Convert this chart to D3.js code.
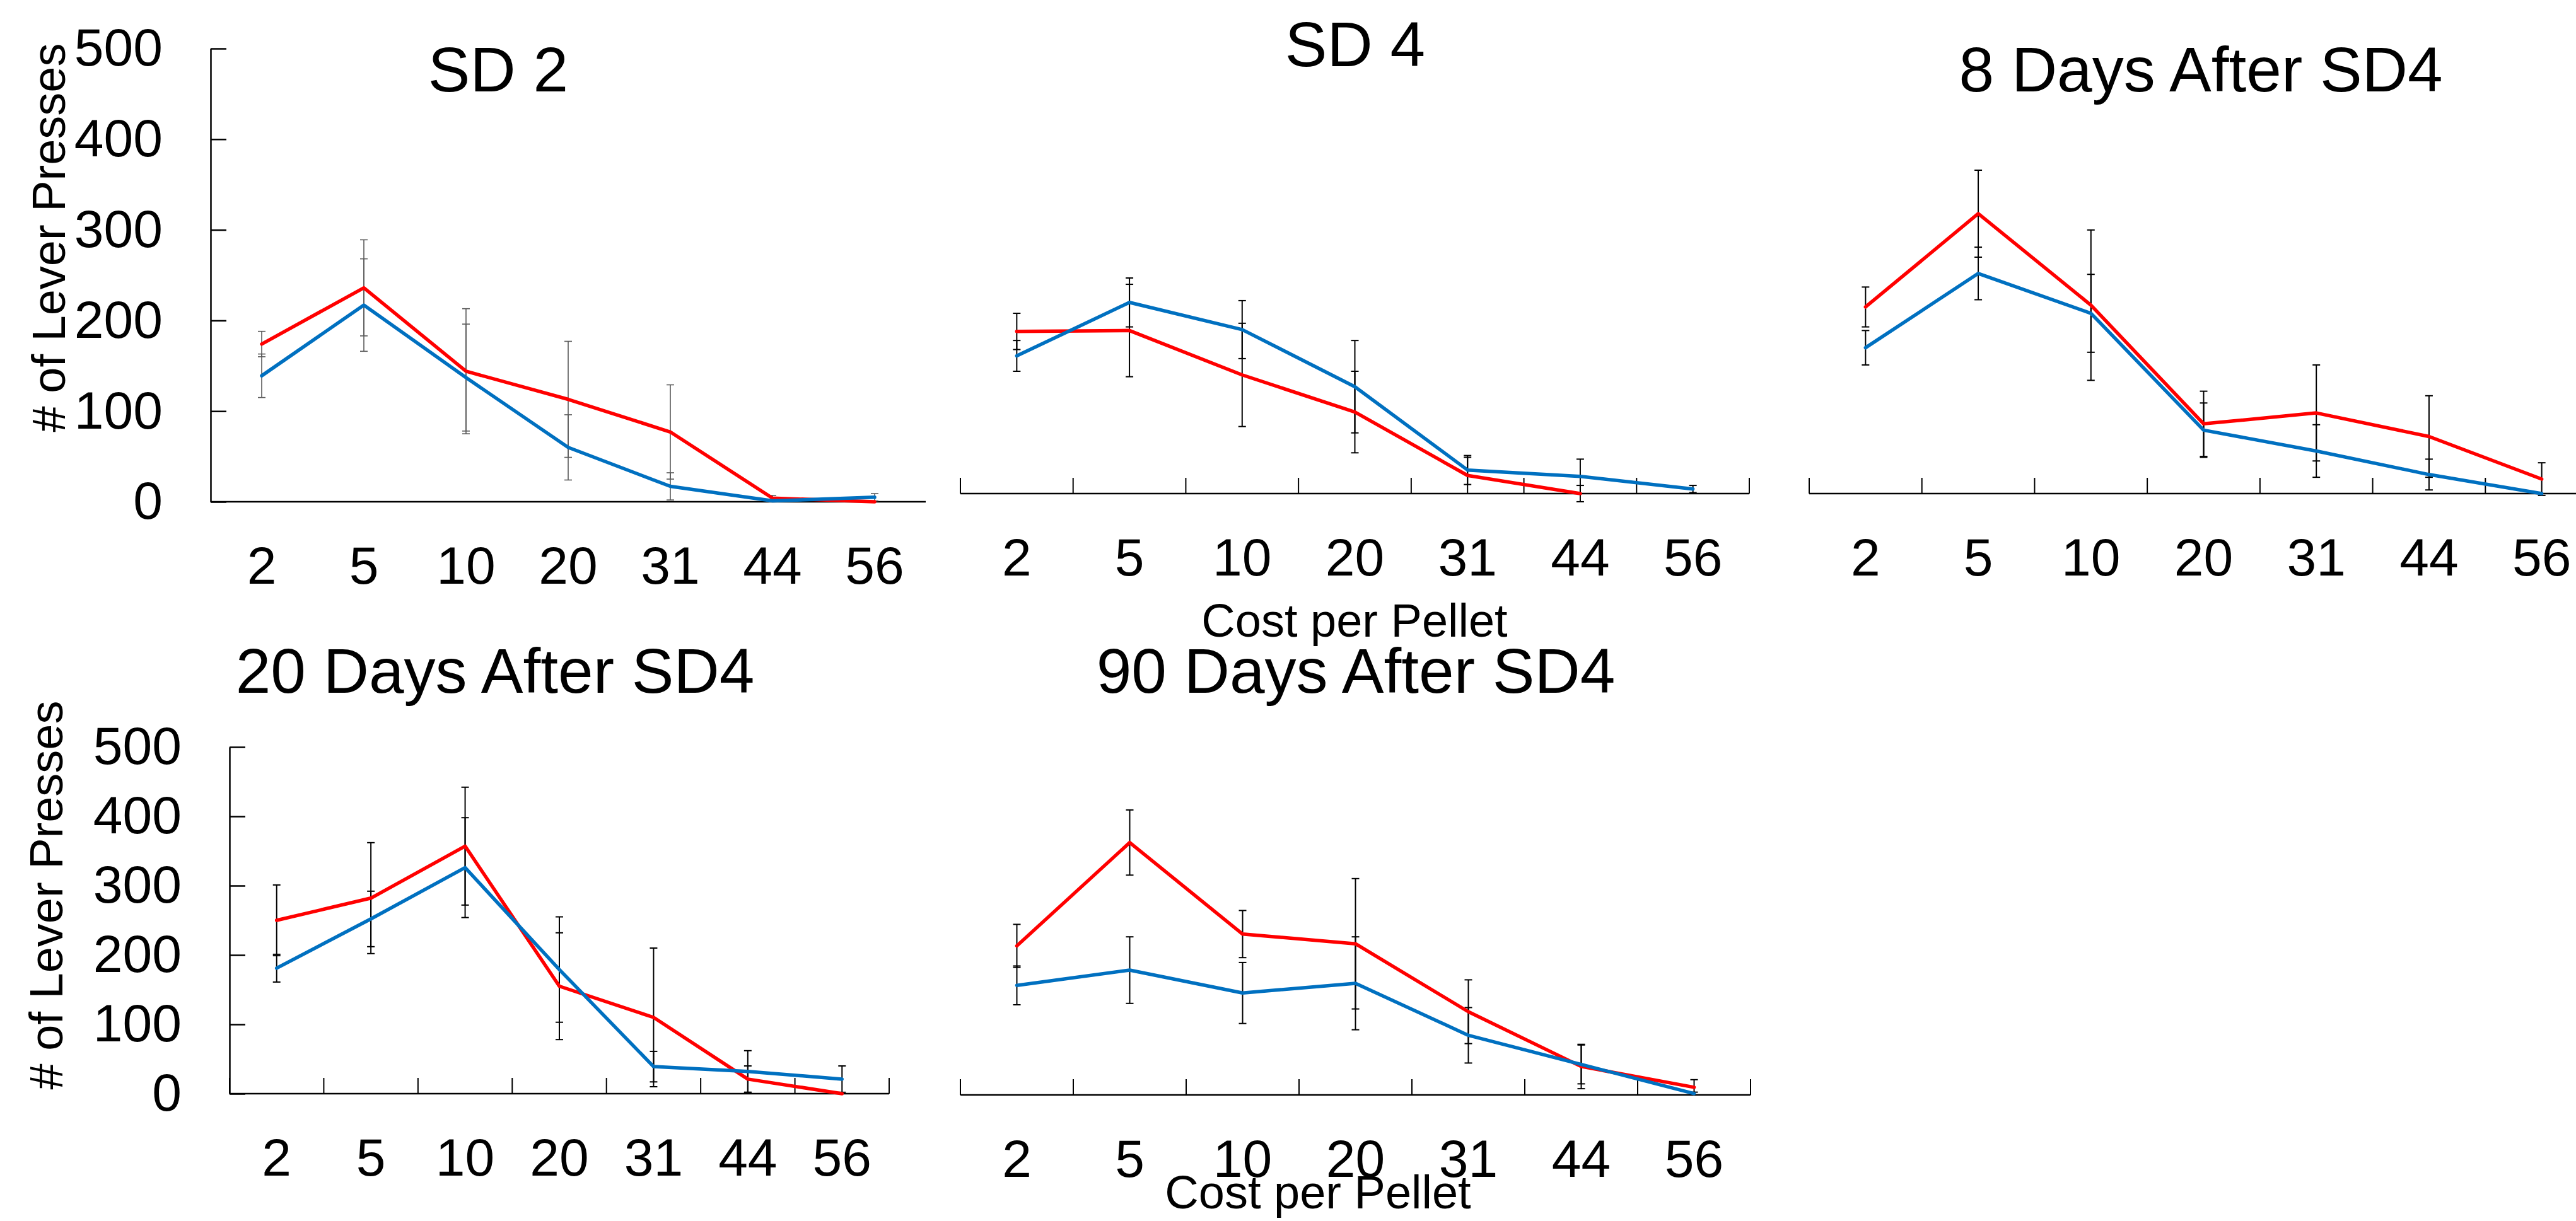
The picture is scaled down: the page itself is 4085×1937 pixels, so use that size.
<!DOCTYPE html>
<html>
<head>
<meta charset="utf-8">
<script src="https://cdn.jsdelivr.net/npm/d3@7"></script>
<style>
  body { margin: 0; background: #fff; }
  svg { display: block; }
  text { font-family: "Liberation Sans", Arial, sans-serif; fill: #000; }
</style>
</head>
<body>
<svg id="chart" width="4085" height="1937"></svg>
<script>
// cost per pellet (categories)
var costs = ["2", "5", "10", "20", "31", "44", "56"];
var yTicks = [0, 100, 200, 300, 400, 500];

// SD 2
var sd2Red      = [174, 236, 144, 113, 77, 4, 0];
var sd2RedErr   = [14, 53, 69, 64, 52, 3, 0];
var sd2Blue     = [139, 217, 137, 60, 17, 1, 5];
var sd2BlueErr  = [24, 51, 59, 36, 15, 1, 4];

// SD 4
var sd4Red      = [179, 180, 131, 90, 20, 0, null];
var sd4RedErr   = [20, 51, 57, 45, 20, 9, null];
var sd4Blue     = [152, 211, 181, 118, 26, 19, 5];
var sd4BlueErr  = [17, 27, 32, 51, 16, 19, 4];

// 8 Days After SD4
var d8Red       = [206, 309, 208, 77, 89, 63, 16];
var d8RedErr    = [22, 48, 83, 36, 53, 45, 18];
var d8Blue      = [161, 243, 199, 70, 47, 21, 0];
var d8BlueErr   = [19, 29, 43, 30, 29, 17, 0];

// 20 Days After SD4
var d20Red      = [250, 282, 357, 155, 110, 21, 0];
var d20RedErr   = [51, 80, 85, 77, 100, 19, 0];
var d20Blue     = [181, 252, 326, 179, 39, 32, 21];
var d20BlueErr  = [20, 40, 72, 76, 22, 30, 19];

// 90 Days After SD4
var d90Red      = [215, 364, 232, 218, 120, 41, 11];
var d90RedErr   = [31, 47, 34, 94, 46, 32, 11];
var d90Blue     = [158, 180, 147, 161, 86, 44, 2];
var d90BlueErr  = [28, 48, 44, 67, 40, 28, 2];

var RED = "#ff0000", BLUE = "#0070c0";

var panels = [
  {title: "SD 2", red: sd2Red, redErr: sd2RedErr, blue: sd2Blue, blueErr: sd2BlueErr,
   left: 334, right: 1468, base: 796, top: 77, yAxis: true, xTicks: false, errColor: "#5a5a5a", errW: 1.6,
   tx: 790, ty: 145, ylab: [103, 377]},
  {title: "SD 4", red: sd4Red, redErr: sd4RedErr, blue: sd4Blue, blueErr: sd4BlueErr,
   left: 1523, right: 2774, base: 783, top: 64.5, yAxis: false, xTicks: true, errColor: "#000", errW: 2,
   tx: 2149, ty: 105, xlab: [2148, 1010]},
  {title: "8 Days After SD4", red: d8Red, redErr: d8RedErr, blue: d8Blue, blueErr: d8BlueErr,
   left: 2869, right: 4120, base: 783, top: 64.5, yAxis: false, xTicks: true, errColor: "#000", errW: 2,
   tx: 3490, ty: 145},
  {title: "20 Days After SD4", red: d20Red, redErr: d20RedErr, blue: d20Blue, blueErr: d20BlueErr,
   left: 364, right: 1410, base: 1735, top: 1185, yAxis: true, xTicks: true, errColor: "#000", errW: 2,
   tx: 785, ty: 1099, ylab: [99, 1420]},
  {title: "90 Days After SD4", red: d90Red, redErr: d90RedErr, blue: d90Blue, blueErr: d90BlueErr,
   left: 1523, right: 2776, base: 1737, top: 1187, yAxis: false, xTicks: true, errColor: "#000", errW: 2,
   tx: 2150, ty: 1099, xlab: [2090, 1917]}
];

var svg = d3.select("#chart");

panels.forEach(function(p) {
  var g = svg.append("g");
  var x = d3.scaleBand().domain(costs).range([p.left, p.right]);
  var y = d3.scaleLinear().domain([0, 500]).range([p.base, p.top]);
  var cx = function(i) { return x(costs[i]) + x.bandwidth() / 2; };

  // x axis line + boundary ticks
  g.append("line")
    .attr("x1", p.left).attr("x2", p.right)
    .attr("y1", p.base).attr("y2", p.base)
    .attr("stroke", "#000").attr("stroke-width", 2.5);
  if (p.xTicks) {
    var bounds = costs.map(function(c) { return x(c); }).concat([p.right]);
    g.selectAll(".xt").data(bounds).enter().append("line")
      .attr("x1", function(d) { return d; }).attr("x2", function(d) { return d; })
      .attr("y1", p.base).attr("y2", p.base - 25)
      .attr("stroke", "#000").attr("stroke-width", 2);
  }

  // x tick labels
  var xa = g.append("g").attr("transform", "translate(0," + p.base + ")")
    .call(d3.axisBottom(x).tickSize(0).tickPadding(70));
  xa.select(".domain").remove();
  xa.selectAll("text").attr("font-size", 84).attr("font-family", "Liberation Sans, Arial, sans-serif");

  // y axis
  if (p.yAxis) {
    var ya = g.append("g").attr("transform", "translate(" + p.left + ",0)")
      .call(d3.axisLeft(y).tickValues(yTicks).tickSizeInner(-25).tickSizeOuter(0).tickPadding(76));
    ya.select(".domain").attr("stroke-width", 2.5);
    ya.selectAll(".tick line").attr("stroke-width", 2.5);
    ya.selectAll("text").attr("font-size", 84).attr("font-family", "Liberation Sans, Arial, sans-serif");
    g.append("text")
      .attr("transform", "translate(" + p.ylab[0] + "," + p.ylab[1] + ") rotate(-90)")
      .attr("text-anchor", "middle")
      .attr("font-size", 74)
      .text("# of Lever Presses");
  }

  // error bars
  [[p.red, p.redErr], [p.blue, p.blueErr]].forEach(function(s) {
    var pts = s[0].map(function(v, i) { return {i: i, v: v, e: s[1][i]}; })
      .filter(function(d) { return d.v != null && d.e > 0; });
    var eb = g.append("g").attr("stroke", p.errColor).attr("stroke-width", p.errW);
    eb.selectAll(".v").data(pts).enter().append("line")
      .attr("x1", function(d) { return cx(d.i); }).attr("x2", function(d) { return cx(d.i); })
      .attr("y1", function(d) { return y(d.v - d.e); }).attr("y2", function(d) { return y(d.v + d.e); });
    eb.selectAll(".hi").data(pts).enter().append("line")
      .attr("x1", function(d) { return cx(d.i) - 6; }).attr("x2", function(d) { return cx(d.i) + 6; })
      .attr("y1", function(d) { return y(d.v + d.e); }).attr("y2", function(d) { return y(d.v + d.e); });
    eb.selectAll(".lo").data(pts).enter().append("line")
      .attr("x1", function(d) { return cx(d.i) - 6; }).attr("x2", function(d) { return cx(d.i) + 6; })
      .attr("y1", function(d) { return y(d.v - d.e); }).attr("y2", function(d) { return y(d.v - d.e); });
  });

  // lines
  var line = d3.line()
    .defined(function(d) { return d != null; })
    .x(function(d, i) { return cx(i); })
    .y(function(d) { return y(d); });
  [[p.red, RED], [p.blue, BLUE]].forEach(function(s) {
    g.append("path").datum(s[0])
      .attr("d", line)
      .attr("fill", "none")
      .attr("stroke", s[1])
      .attr("stroke-width", 5.5)
      .attr("stroke-linejoin", "round")
      .attr("stroke-linecap", "round");
  });

  // title
  g.append("text").attr("x", p.tx).attr("y", p.ty)
    .attr("text-anchor", "middle").attr("font-size", 100)
    .text(p.title);

  if (p.xlab) {
    g.append("text").attr("x", p.xlab[0]).attr("y", p.xlab[1])
      .attr("text-anchor", "middle").attr("font-size", 74)
      .text("Cost per Pellet");
  }
});
</script>
</body>
</html>
